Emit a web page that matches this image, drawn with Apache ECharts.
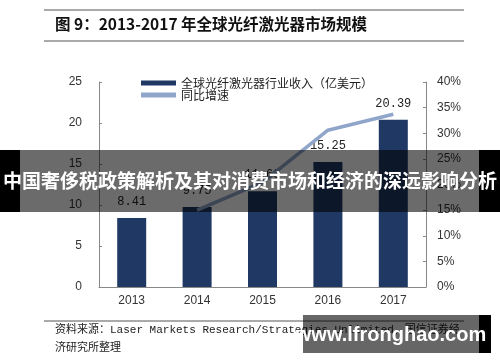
<!DOCTYPE html>
<html><head><meta charset="utf-8">
<script src="https://cdn.jsdelivr.net/npm/echarts@6/dist/echarts.min.js"></script>
<style>html,body{margin:0;padding:0;background:#fff}#c{width:500px;height:362px}</style>
</head><body><div id="c"></div>
<script>
var years = ['2013','2014','2015','2016','2017'];
var revenue = [8.41, 9.75, 11.68, 15.25, 20.39];
var growth = [null, 15.0, 20.4, 30.6, 33.7];
var leftTicks = [0, 5, 10, 15, 20, 25];
var rightTicks = [0, 5, 10, 15, 20, 25, 30, 35, 40];
var seriesNames = ['全球光纤激光器行业收入（亿美元）', '同比增速'];
var titleText = '图 9：2013-2017 年全球光纤激光器市场规模';
var sourceText1 = '资料来源：Laser Markets Research/Strategies Unlimited，国信证券经';
var sourceText2 = '济研究所整理';
var overlayText = '中国奢侈税政策解析及其对消费市场和经济的深远影响分析';
var watermarkText = 'www.lfronghao.com';

var chart = echarts.init(document.getElementById('c'), null, {renderer: 'canvas'});
var axisLbl = {color: '#333', fontSize: 12, fontFamily: 'Liberation Sans, Arial'};
chart.setOption({
  animation: false,
  backgroundColor: '#fff',
  grid: {left: 99, right: 74, top: 82, bottom: 75},
  legend: {
    orient: 'vertical', left: 136, top: 72, itemWidth: 35, itemHeight: 5, itemGap: 0,
    textStyle: {fontSize: 12, color: '#222', fontFamily: 'Noto Sans CJK SC'},
    data: [{name: seriesNames[0], icon: 'rect'},
           {name: seriesNames[1], icon: 'rect', itemStyle: {color: '#8fa5c9'}}]
  },
  xAxis: {
    type: 'category', data: years,
    axisLine: {lineStyle: {color: '#888'}},
    axisTick: {inside: true, length: 4, lineStyle: {color: '#888'}},
    axisLabel: Object.assign({margin: 8}, axisLbl)
  },
  yAxis: [
    {type: 'value', min: leftTicks[0], max: leftTicks[leftTicks.length-1], interval: 5,
     axisLine: {show: true, lineStyle: {color: '#888'}},
     axisTick: {show: true, inside: true, length: 3, lineStyle: {color: '#888'}},
     splitLine: {show: false}, axisLabel: Object.assign({margin: 17}, axisLbl)},
    {type: 'value', min: rightTicks[0], max: rightTicks[rightTicks.length-1], interval: 5,
     axisLine: {show: true, lineStyle: {color: '#888'}},
     axisTick: {show: true, inside: true, length: 3, lineStyle: {color: '#888'}},
     splitLine: {show: false},
     axisLabel: Object.assign({margin: 11, formatter: '{value}%'}, axisLbl)}
  ],
  series: [
    {name: seriesNames[0], type: 'bar', data: revenue, barWidth: 29,
     itemStyle: {color: '#1f3864'},
     label: {show: true, position: 'top', distance: 10, color: '#222', fontSize: 12,
             fontFamily: 'Liberation Mono, monospace', formatter: function(p){return p.value.toFixed(2);}}},
    {name: seriesNames[1], type: 'line', yAxisIndex: 1, data: growth, symbol: 'none',
     lineStyle: {color: '#8fa5c9', width: 3.5}, itemStyle: {color: '#8fa5c9'}, z: 5}
  ],
  graphic: [
    {type: 'line', shape: {x1: 44, y1: 10, x2: 464, y2: 10}, style: {stroke: '#555', lineWidth: 1}},
    {type: 'line', shape: {x1: 44, y1: 41, x2: 464, y2: 41}, style: {stroke: '#555', lineWidth: 1}},
    {type: 'text', left: 55, top: 16, style: {text: titleText, fill: '#111', font: 'bold 15.5px "Noto Sans CJK SC"'}},
    {type: 'line', shape: {x1: 44, y1: 321, x2: 464, y2: 321}, style: {stroke: '#555', lineWidth: 1}},
    {type: 'text', left: 55, top: 325, style: {text: sourceText1, fill: '#222', font: '11px "Liberation Mono", "Noto Sans CJK SC"'}},
    {type: 'text', left: 55, top: 341, style: {text: sourceText2, fill: '#222', font: '11px "Noto Sans CJK SC"'}},
    {type: 'rect', shape: {x: 0, y: 150, width: 500, height: 62}, style: {fill: 'rgba(0,0,0,0.58)'}, z: 100},
    {type: 'rect', shape: {x: 0, y: 150, width: 20, height: 62}, style: {fill: '#000'}, z: 100},
    {type: 'rect', shape: {x: 479, y: 150, width: 21, height: 62}, style: {fill: '#000'}, z: 100},
    {type: 'text', x: 250, y: 181, z: 101, style: {text: overlayText, fill: '#fff', align: 'center', verticalAlign: 'middle', font: 'bold 19px "Noto Sans CJK SC"'}},
    {type: 'rect', shape: {x: 303, y: 315, width: 176, height: 38}, style: {fill: 'rgba(0,0,0,0.6)'}, z: 100},
    {type: 'rect', shape: {x: 479, y: 315, width: 12, height: 38}, style: {fill: '#000'}, z: 100},
    {type: 'text', x: 391, y: 335, z: 101, style: {text: watermarkText, fill: '#fff', align: 'center', verticalAlign: 'middle', font: 'bold 20px "Liberation Sans", Arial'}}
  ]
});
</script></body></html>
